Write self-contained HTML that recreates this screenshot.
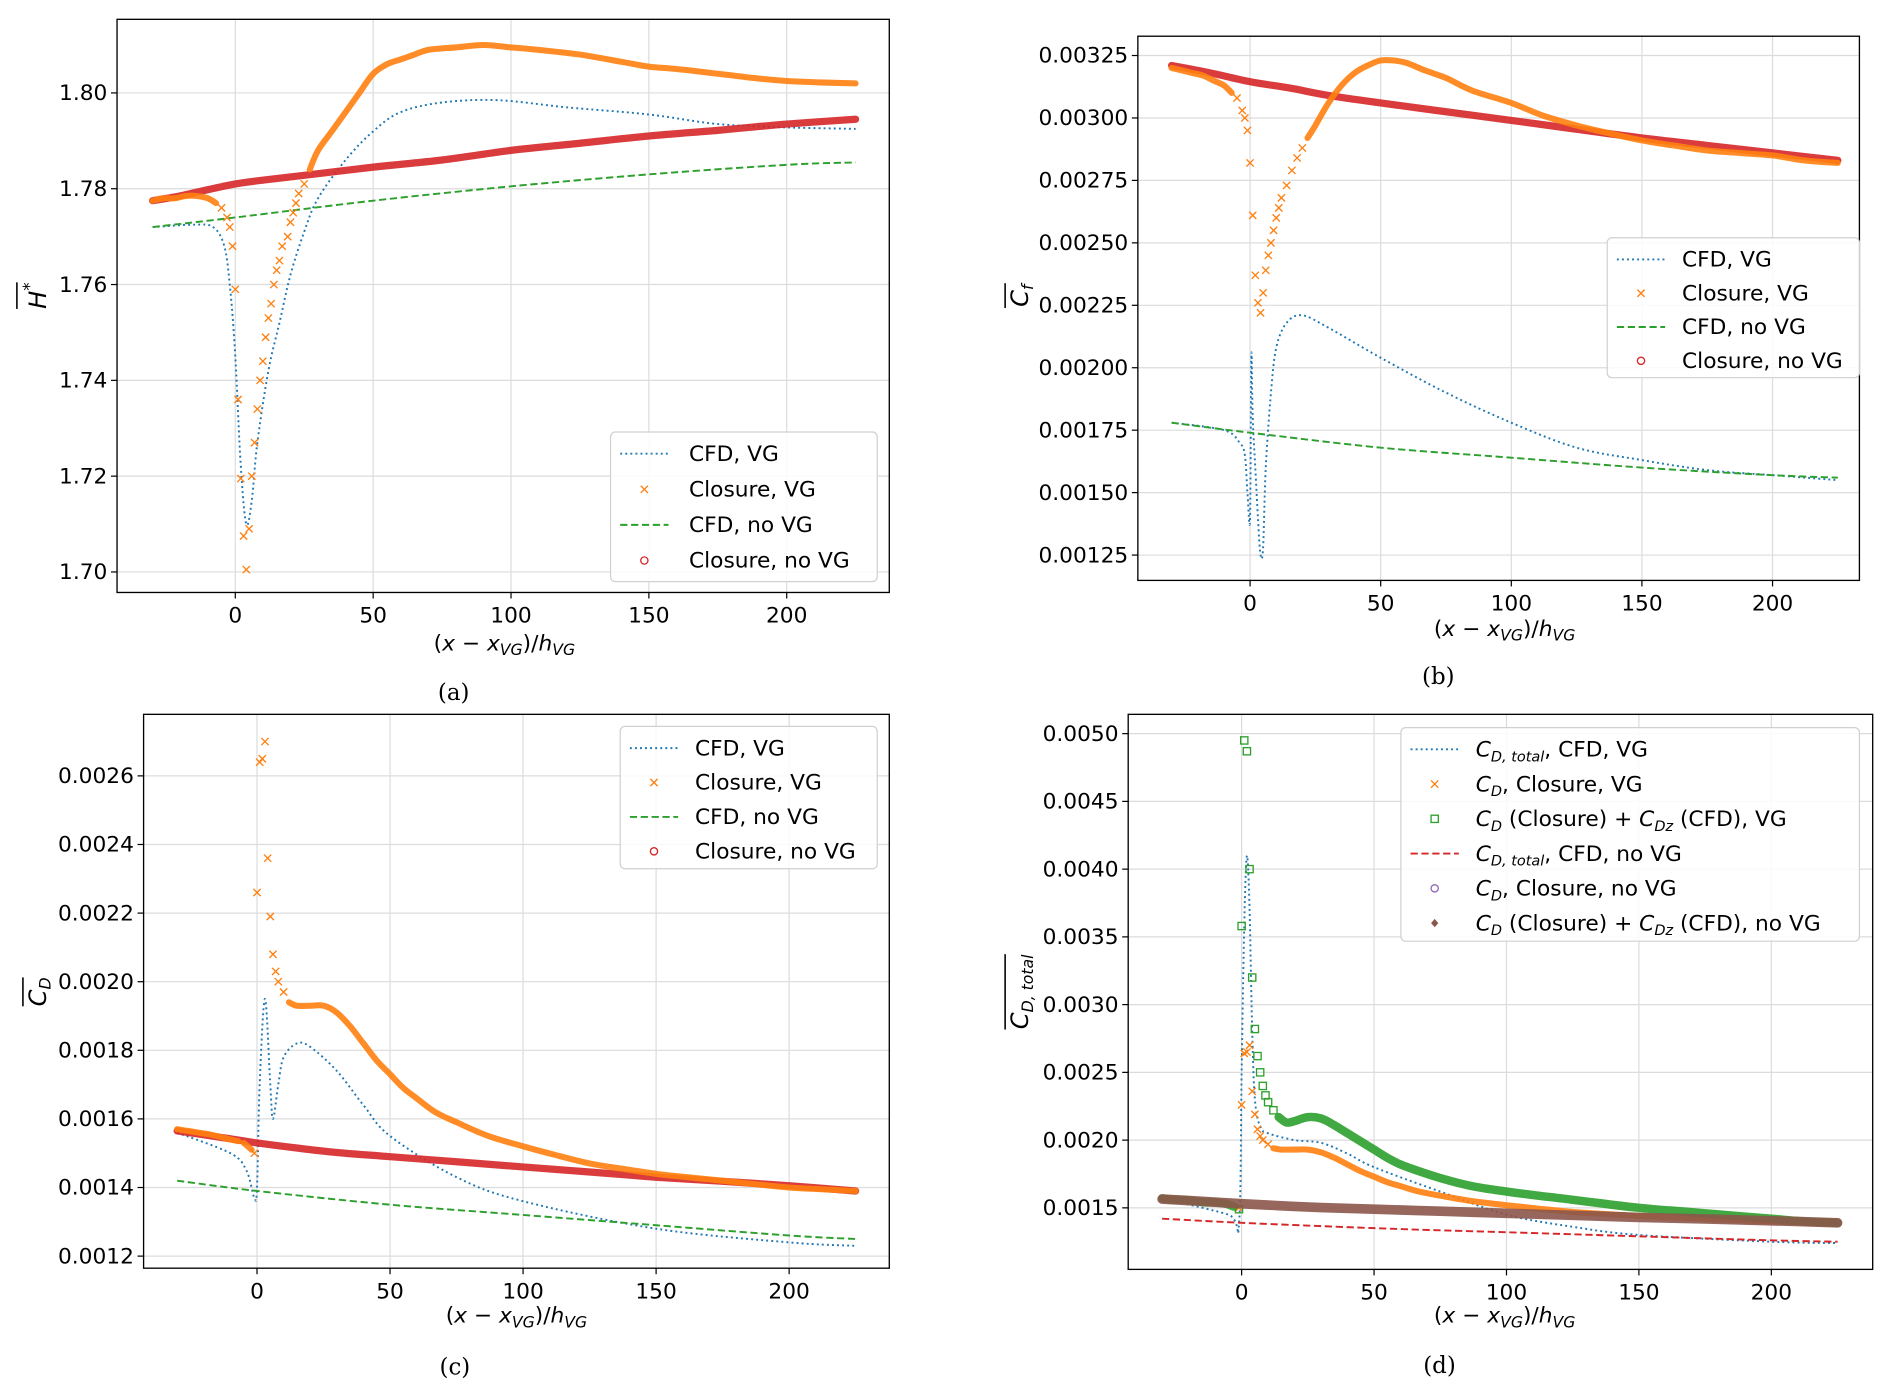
<!DOCTYPE html>
<html><head><meta charset="utf-8"><style>
html,body{margin:0;padding:0;background:#fff;}
svg{display:block;}
text{font-family:"DejaVu Sans","Liberation Sans",sans-serif;}
.cap{font-family:"DejaVu Serif","Liberation Serif",serif;}
</style></head><body>
<svg id="fig" width="1892" height="1399" viewBox="0 0 1568 1159.4" xmlns="http://www.w3.org/2000/svg"></svg>
<script>
// ---------- Panel (a) data: H* ----------
const aCfdVgX = [-30,-15,-8,-4,-2,0,2,4,6,8,12,16,20,25,30,40,50,60,75,95,120,150,175,200,225];
const aCfdVgY = [1.772,1.7725,1.772,1.768,1.76,1.745,1.722,1.710,1.715,1.727,1.742,1.752,1.762,1.771,1.778,1.786,1.792,1.796,1.798,1.7985,1.797,1.7955,1.7935,1.7928,1.7925];
const aCloVgX = [-30,-26,-22,-18,-14,-10,-7,-5,-3,-2,-1,0,1,2,3,4,5,6,7,8,9,10,11,12,13,14,15,16,17,19,20,21,22,23,25,27,30,35,40,45,50,55,60,65,70,80,90,100,110,125,140,150,160,175,190,200,212,225];
const aCloVgY = [1.7775,1.778,1.778,1.7785,1.7785,1.778,1.777,1.776,1.774,1.772,1.768,1.759,1.736,1.7195,1.7075,1.7005,1.709,1.72,1.727,1.734,1.740,1.744,1.749,1.753,1.756,1.760,1.763,1.765,1.768,1.770,1.773,1.775,1.777,1.779,1.781,1.784,1.788,1.792,1.796,1.800,1.804,1.806,1.807,1.808,1.809,1.8095,1.810,1.8095,1.809,1.808,1.8065,1.8055,1.805,1.804,1.803,1.8025,1.8022,1.802];
const aCfdNoX = [-30,0,50,100,150,200,225];
const aCfdNoY = [1.772,1.774,1.7775,1.7805,1.783,1.785,1.7855];
const aCloNoX = [-30,-20,-10,0,10,25,50,75,100,125,150,175,200,225];
const aCloNoY = [1.7775,1.7785,1.7798,1.781,1.7818,1.7828,1.7845,1.786,1.788,1.7895,1.791,1.7922,1.7935,1.7945];
const aYTicks = [1.70,1.72,1.74,1.76,1.78,1.80];
const aYLabels = ["1.70","1.72","1.74","1.76","1.78","1.80"];
const xTicks = [0,50,100,150,200];
const xLabels = ["0","50","100","150","200"];

// ---------- Panel (b) data: Cf ----------
const bCfdVgX = [-30,-10,-4,-2,-1,0,0.5,1,2,3,4,5,6,8,10,14,20,30,50,75,100,125,150,175,200,225];
const bCfdVgY = [0.00178,0.00175,0.00170,0.00165,0.00150,0.00140,0.00205,0.00180,0.00160,0.00140,0.00125,0.00128,0.0016,0.0019,0.00208,0.00218,0.00221,0.00216,0.00204,0.0019,0.00178,0.00168,0.00163,0.00159,0.00157,0.00155];
const bCloVgX = [-30,-26,-22,-18,-14,-10,-7,-5,-3,-2,-1,0,1,2,3,4,5,6,7,8,9,10,11,12,14,16,18,20,22,25,30,35,40,45,50,55,60,67,75,85,100,112,125,137,150,162,175,187,200,212,225];
const bCloVgY = [0.00320,0.00319,0.00318,0.00317,0.00315,0.00313,0.00310,0.00308,0.00303,0.00300,0.00295,0.00282,0.00261,0.00237,0.00226,0.00222,0.00230,0.00239,0.00245,0.0025,0.00255,0.0026,0.00264,0.00268,0.00273,0.00279,0.00284,0.00288,0.00292,0.00297,0.00306,0.00313,0.00318,0.00321,0.00323,0.00323,0.00322,0.00319,0.00316,0.00311,0.00306,0.00301,0.00297,0.00294,0.00291,0.00289,0.00287,0.00286,0.00285,0.00283,0.00282];
const bCfdNoX = [-30,0,50,100,150,200,225];
const bCfdNoY = [0.00178,0.00174,0.00168,0.00164,0.0016,0.00157,0.00156];
const bCloNoX = [-30,-15,0,15,30,50,75,100,125,150,175,200,225];
const bCloNoY = [0.00321,0.00318,0.003145,0.00312,0.00309,0.00306,0.003025,0.00299,0.002955,0.00292,0.00289,0.00286,0.00283];
const bYTicks = [0.00125,0.0015,0.00175,0.002,0.00225,0.0025,0.00275,0.003,0.00325];
const bYLabels = ["0.00125","0.00150","0.00175","0.00200","0.00225","0.00250","0.00275","0.00300","0.00325"];

// ---------- Panel (c) data: CD ----------
const cCfdVgX = [-30,-10,-4,-1,0,1,3,5,6,8,10,15,20,30,40,50,75,100,150,200,225];
const cCfdVgY = [0.00156,0.00150,0.00145,0.00137,0.0014,0.0017,0.00195,0.0017,0.0016,0.0017,0.00178,0.00182,0.00181,0.00174,0.00164,0.00155,0.00143,0.00136,0.00128,0.00124,0.00123];
const cCloVgX = [-30,-26,-22,-18,-14,-10,-7,-5,-2,-1,0,1,2,3,4,5,6,7,8,10,12,15,20,25,30,35,40,45,50,55,60,67,75,87,100,112,125,137,150,162,175,187,200,212,225];
const cCloVgY = [0.00157,0.001565,0.00156,0.001555,0.001548,0.00154,0.001535,0.00153,0.00151,0.0015,0.00226,0.00264,0.00265,0.0027,0.00236,0.00219,0.00208,0.00203,0.002,0.00197,0.00194,0.00193,0.00193,0.00193,0.00191,0.00187,0.00182,0.00177,0.00173,0.00169,0.00166,0.00162,0.00159,0.00155,0.00152,0.001495,0.00147,0.001455,0.00144,0.00143,0.00142,0.00141,0.0014,0.001395,0.00139];
const cCfdNoX = [-30,0,50,100,150,200,225];
const cCfdNoY = [0.00142,0.00139,0.00135,0.00132,0.00129,0.00126,0.00125];
const cCloNoX = [-30,-15,0,15,30,50,75,100,125,150,175,200,225];
const cCloNoY = [0.001565,0.001548,0.00153,0.001515,0.001502,0.00149,0.001475,0.00146,0.001445,0.00143,0.001418,0.001405,0.00139];
const cYTicks = [0.0012,0.0014,0.0016,0.0018,0.002,0.0022,0.0024,0.0026];
const cYLabels = ["0.0012","0.0014","0.0016","0.0018","0.0020","0.0022","0.0024","0.0026"];

// ---------- Panel (d) data: CD total ----------
const dCfdVgX = [-30,-5,-1,0,1,2,3,4,5,7,10,20,30,40,50,75,100,125,150,200,225];
const dCfdVgY = [0.00157,0.00145,0.00138,0.0025,0.0036,0.0041,0.0037,0.0028,0.0023,0.0021,0.00205,0.002,0.00198,0.0019,0.0018,0.00162,0.00145,0.00136,0.0013,0.00125,0.00124];
const dCloVgX = cCloVgX.slice();
const dCloVgY = cCloVgY.slice();
const dSumVgX = [-30,-26,-22,-18,-14,-10,-6,-3,-1,0,1,2,3,4,5,6,7,8,9,10,12,14,17,20,25,30,35,40,45,50,55,60,67,75,87,100,112,125,137,150,162,175,187,200,212,225];
const dSumVgY = [0.00157,0.00156,0.00156,0.00155,0.00154,0.00154,0.00153,0.00151,0.00149,0.00358,0.00495,0.00487,0.004,0.0032,0.00282,0.00262,0.0025,0.0024,0.00233,0.00228,0.00222,0.00217,0.00213,0.00214,0.00217,0.00216,0.00211,0.00205,0.00199,0.00193,0.00187,0.00182,0.00177,0.00172,0.00166,0.00162,0.00159,0.00156,0.00153,0.0015,0.00148,0.00146,0.00144,0.00142,0.0014,0.00139];
const dCfdNoX = [-30,0,50,100,150,200,225];
const dCfdNoY = [0.00142,0.00139,0.00135,0.00132,0.00129,0.00126,0.00125];
const dSumNoX = cCloNoX.slice();
const dSumNoY = cCloNoY.slice();
const dYTicks = [0.0015,0.002,0.0025,0.003,0.0035,0.004,0.0045,0.005];
const dYLabels = ["0.0015","0.0020","0.0025","0.0030","0.0035","0.0040","0.0045","0.0050"];

const NS = "http://www.w3.org/2000/svg";
const fig = document.getElementById('fig');
const C = {blue:'#1f77b4', orange:'#ff7f0e', green:'#2ca02c', red:'#d62728', purple:'#9467bd', brown:'#8c564b'};

function mk(tag, parent, attrs){
  const e = document.createElementNS(NS, tag);
  for (const k in attrs) e.setAttribute(k, attrs[k]);
  parent.appendChild(e);
  return e;
}
function smooth(pts){
  if (pts.length < 2) return '';
  let d = 'M' + pts[0][0].toFixed(1) + ',' + pts[0][1].toFixed(1);
  for (let i = 0; i < pts.length - 1; i++) {
    const p0 = pts[i-1] || pts[i], p1 = pts[i], p2 = pts[i+1], p3 = pts[i+2] || p2;
    const c1 = [p1[0] + (p2[0]-p0[0])/6, p1[1] + (p2[1]-p0[1])/6];
    const c2 = [p2[0] - (p3[0]-p1[0])/6, p2[1] - (p3[1]-p1[1])/6];
    d += 'C' + c1[0].toFixed(1) + ',' + c1[1].toFixed(1) + ' ' + c2[0].toFixed(1) + ',' + c2[1].toFixed(1) + ' ' + p2[0].toFixed(1) + ',' + p2[1].toFixed(1);
  }
  return d;
}

function panel(p){
  const g = mk('g', fig, {});
  
  
  const sx = v => p.x0 + (v - 0) * (p.x200 - p.x0) / 200;
  const sy = v => p.yA + (v - p.vA) * (p.yB - p.yA) / (p.vB - p.vA);
  const grid = mk('g', g, {});
  
  
  xTicks.forEach((t,i) => {
    const X = sx(t);
    mk('line', grid, {x1:X, x2:X, y1:p.top, y2:p.bot, stroke:'#dcdcdc', 'stroke-width':1});
    mk('line', g, {x1:X, x2:X, y1:p.bot, y2:p.bot+5, stroke:'#000', 'stroke-width':1});
    const tx = mk('text', g, {x:X, y:p.bot+25, 'text-anchor':'middle', 'font-size':18});
    tx.textContent = xLabels[i];
    
    
  });
  p.yt.forEach((t,i) => {
    const Y = sy(t);
    mk('line', grid, {x1:p.left, x2:p.right, y1:Y, y2:Y, stroke:'#dcdcdc', 'stroke-width':1});
    mk('line', g, {x1:p.left-5, x2:p.left, y1:Y, y2:Y, stroke:'#000', 'stroke-width':1});
    const ty = mk('text', g, {x:p.left-8, y:Y+6, 'text-anchor':'end', 'font-size':18});
    ty.textContent = p.yl[i];
    
    
  });
  p.series.forEach(s => {
    const sg = mk('g', g, {});
    
    
    const pts = s.x.map((v,i) => [sx(v), sy(s.y[i])]);
    if (s.ls) {
      mk('path', sg, {d:smooth(pts), fill:'none', stroke:s.c, 'stroke-width':1.6,
        'stroke-dasharray': s.ls === 'dot' ? '1.6,2.6' : '6,3'});
    } else {
      const onBand = new Array(s.x.length).fill(false);
      let run = [];
      const flush = () => {
        if (run.length > 1) {
          mk('path', sg, {d:smooth(run.map(i => pts[i])), fill:'none', stroke:s.c, 'stroke-width':s.bw,
            'stroke-linecap':'round', 'stroke-linejoin':'round', opacity:0.9});
          run.forEach(i => onBand[i] = true);
        }
        run = [];
      };
      for (let i = 0; i < s.x.length; i++) {
        if (i > 0 && s.x[i] - s.x[i-1] >= 3) {
          if (run.length === 0) run.push(i-1);
          run.push(i);
        } else { flush(); }
      }
      flush();
      s.x.forEach((v,i) => {
        if (onBand[i]) return;
        const X = pts[i][0], Y = pts[i][1];
        if (s.m === 'x') {
          mk('path', sg, {d:`M${X-3},${Y-3}L${X+3},${Y+3}M${X-3},${Y+3}L${X+3},${Y-3}`, stroke:s.c, 'stroke-width':1.1, fill:'none'});
        } else if (s.m === 'o') {
          mk('circle', sg, {cx:X, cy:Y, r:3.2, fill:'none', stroke:s.c, 'stroke-width':1.1});
        } else if (s.m === 's') {
          mk('rect', sg, {x:X-3, y:Y-3, width:6, height:6, fill:'none', stroke:s.c, 'stroke-width':1.1});
        } else if (s.m === 'd') {
          mk('path', sg, {d:`M${X},${Y-3.5}L${X+3},${Y}L${X},${Y+3.5}L${X-3},${Y}Z`, fill:s.c, stroke:s.c, 'stroke-width':1});
        }
      });
    }
  });
  mk('rect', g, {x:p.left, y:p.top, width:p.right-p.left, height:p.bot-p.top, fill:'none', stroke:'#000', 'stroke-width':1.1});
  const L = p.leg;
  const lg = mk('g', g, {});
  
  
  mk('rect', lg, {x:L.x, y:L.y, width:L.w, height:L.h, rx:4, fill:'#fff', 'fill-opacity':0.85, stroke:'#d0d0d0', 'stroke-width':1});
  L.items.forEach((it,i) => {
    const Y = L.y + 18 + i * L.dy;
    const ig = mk('g', lg, {});
    
    
    const mx = L.x + 28;
    if (it.ls) {
      mk('line', ig, {x1:L.x+8, x2:L.x+48, y1:Y, y2:Y, stroke:it.c, 'stroke-width':1.6, 'stroke-dasharray': it.ls==='dot'?'1.6,2.6':'6,3'});
    } else if (it.m === 'x') {
      mk('path', ig, {d:`M${mx-3},${Y-3}L${mx+3},${Y+3}M${mx-3},${Y+3}L${mx+3},${Y-3}`, stroke:it.c, 'stroke-width':1.1});
    } else if (it.m === 'o') {
      mk('circle', ig, {cx:mx, cy:Y, r:3, fill:'none', stroke:it.c, 'stroke-width':1.1});
    } else if (it.m === 's') {
      mk('rect', ig, {x:mx-3, y:Y-3, width:6, height:6, fill:'none', stroke:it.c, 'stroke-width':1.1});
    } else if (it.m === 'd') {
      mk('path', ig, {d:`M${mx},${Y-3.5}L${mx+3},${Y}L${mx},${Y+3.5}L${mx-3},${Y}Z`, fill:it.c});
    }
    const t = mk('text', ig, {x:L.x+L.tx, y:Y+6, 'font-size':18});
    t.innerHTML = it.t;
  });
  const xl = mk('text', g, {x:p.xlx, y:p.xly, 'text-anchor':'middle', 'font-size':18});
  xl.innerHTML = '(<tspan font-style="italic">x</tspan> − <tspan font-style="italic">x</tspan><tspan font-size="13" dy="4" font-style="italic">VG</tspan><tspan dy="-4">)/</tspan><tspan font-style="italic">h</tspan><tspan font-size="13" dy="4" font-style="italic">VG</tspan>';
  
  
  const yg = mk('g', g, {transform:`translate(${p.ylx},${p.yly}) rotate(-90)`});
  
  
  const yl = mk('text', yg, {x:0, y:0, 'text-anchor':'middle', 'font-size':p.yfs || 20});
  yl.innerHTML = p.ytitle;
  let w = 30;
  try { w = yl.getBBox().width; } catch(e) {}
  mk('line', yg, {x1:-w/2, x2:w/2, y1:-p.ob, y2:-p.ob, stroke:'#000', 'stroke-width':1.3});
  const cap = mk('text', g, {x:p.capx, y:p.capy, 'text-anchor':'middle', 'font-size':19, class:'cap'});
  cap.textContent = p.cap;
  
  
}

const std4 = [
  {t:'CFD, VG', c:C.blue, ls:'dot'},
  {t:'Closure, VG', c:C.orange, m:'x'},
  {t:'CFD, no VG', c:C.green, ls:'dash'},
  {t:'Closure, no VG', c:C.red, m:'o'}];

panel({name:'panel-a-hstar', left:97, right:737, top:16, bot:491, x0:195, x200:652, vA:1.80, yA:77, vB:1.70, yB:474,
  yt:aYTicks, yl:aYLabels,
  series:[
    {nm:'cfd-vg-line', x:aCfdVgX, y:aCfdVgY, c:C.blue, ls:'dot'},
    {nm:'cfd-novg-line', x:aCfdNoX, y:aCfdNoY, c:C.green, ls:'dash'},
    {nm:'closure-novg-markers', x:aCloNoX, y:aCloNoY, c:C.red, m:'o', bw:6},
    {nm:'closure-vg-markers', x:aCloVgX, y:aCloVgY, c:C.orange, m:'x', bw:5}],
  leg:{x:506, y:358, w:221, h:124, dy:29.5, tx:65, items:std4},
  xlx:418, xly:539, ylx:38, yly:245, ob:24, ytitle:'<tspan font-style="italic">H</tspan><tspan font-size="14" dy="-9">*</tspan>',
  capx:376, capy:580, cap:'(a)'});

panel({name:'panel-b-cf', left:943, right:1541, top:30, bot:481, x0:1036, x200:1469, vA:0.00325, yA:46, vB:0.00125, yB:460,
  yt:bYTicks, yl:bYLabels,
  series:[
    {nm:'cfd-vg-line', x:bCfdVgX, y:bCfdVgY, c:C.blue, ls:'dot'},
    {nm:'cfd-novg-line', x:bCfdNoX, y:bCfdNoY, c:C.green, ls:'dash'},
    {nm:'closure-novg-markers', x:bCloNoX, y:bCloNoY, c:C.red, m:'o', bw:6},
    {nm:'closure-vg-markers', x:bCloVgX, y:bCloVgY, c:C.orange, m:'x', bw:5}],
  leg:{x:1332, y:197, w:209, h:116, dy:28, tx:62, items:std4},
  xlx:1247, xly:527, ylx:852, yly:245, ob:19, ytitle:'<tspan font-style="italic">C</tspan><tspan font-size="13" dy="4" font-style="italic">f</tspan>',
  capx:1192, capy:567, cap:'(b)'});

panel({name:'panel-c-cd', left:119, right:737, top:592, bot:1051, x0:213, x200:654, vA:0.0026, yA:643, vB:0.0012, yB:1041,
  yt:cYTicks, yl:cYLabels,
  series:[
    {nm:'cfd-vg-line', x:cCfdVgX, y:cCfdVgY, c:C.blue, ls:'dot'},
    {nm:'cfd-novg-line', x:cCfdNoX, y:cCfdNoY, c:C.green, ls:'dash'},
    {nm:'closure-novg-markers', x:cCloNoX, y:cCloNoY, c:C.red, m:'o', bw:6},
    {nm:'closure-vg-markers', x:cCloVgX, y:cCloVgY, c:C.orange, m:'x', bw:5}],
  leg:{x:514, y:602, w:213, h:118, dy:28.5, tx:62, items:std4},
  xlx:428, xly:1096, ylx:38, yly:822, ob:19, ytitle:'<tspan font-style="italic">C</tspan><tspan font-size="13" dy="4" font-style="italic">D</tspan>',
  capx:377, capy:1139, cap:'(c)'});

panel({name:'panel-d-cd-total', left:935, right:1552, top:592, bot:1052, x0:1029, x200:1468, vA:0.005, yA:608, vB:0.0015, yB:1001,
  yt:dYTicks, yl:dYLabels,
  series:[
    {nm:'cfd-vg-line', x:dCfdVgX, y:dCfdVgY, c:C.blue, ls:'dot'},
    {nm:'cfd-novg-line', x:dCfdNoX, y:dCfdNoY, c:C.red, ls:'dash'},
    {nm:'closure-vg-markers', x:dCloVgX, y:dCloVgY, c:C.orange, m:'x', bw:5},
    {nm:'sum-vg-markers', x:dSumVgX, y:dSumVgY, c:C.green, m:'s', bw:7},
    {nm:'sum-novg-markers', x:dSumNoX, y:dSumNoY, c:C.brown, m:'d', bw:8}],
  leg:{x:1161, y:603, w:380, h:177, dy:28.8, tx:62, items:[
    {t:'<tspan font-style="italic">C</tspan><tspan font-size="12" dy="4" font-style="italic">D, total</tspan><tspan dy="-4">, CFD, VG</tspan>', c:C.blue, ls:'dot'},
    {t:'<tspan font-style="italic">C</tspan><tspan font-size="12" dy="4" font-style="italic">D</tspan><tspan dy="-4">, Closure, VG</tspan>', c:C.orange, m:'x'},
    {t:'<tspan font-style="italic">C</tspan><tspan font-size="12" dy="4" font-style="italic">D</tspan><tspan dy="-4"> (Closure) + </tspan><tspan font-style="italic">C</tspan><tspan font-size="12" dy="4" font-style="italic">Dz</tspan><tspan dy="-4"> (CFD), VG</tspan>', c:C.green, m:'s'},
    {t:'<tspan font-style="italic">C</tspan><tspan font-size="12" dy="4" font-style="italic">D, total</tspan><tspan dy="-4">, CFD, no VG</tspan>', c:C.red, ls:'dash'},
    {t:'<tspan font-style="italic">C</tspan><tspan font-size="12" dy="4" font-style="italic">D</tspan><tspan dy="-4">, Closure, no VG</tspan>', c:C.purple, m:'o'},
    {t:'<tspan font-style="italic">C</tspan><tspan font-size="12" dy="4" font-style="italic">D</tspan><tspan dy="-4"> (Closure) + </tspan><tspan font-style="italic">C</tspan><tspan font-size="12" dy="4" font-style="italic">Dz</tspan><tspan dy="-4"> (CFD), no VG</tspan>', c:C.brown, m:'d'}]},
  xlx:1247, xly:1096, ylx:852, yly:822, ob:19, ytitle:'<tspan font-style="italic">C</tspan><tspan font-size="13" dy="4" font-style="italic">D, total</tspan>',
  capx:1193, capy:1138, cap:'(d)'});
</script>
</body></html>
